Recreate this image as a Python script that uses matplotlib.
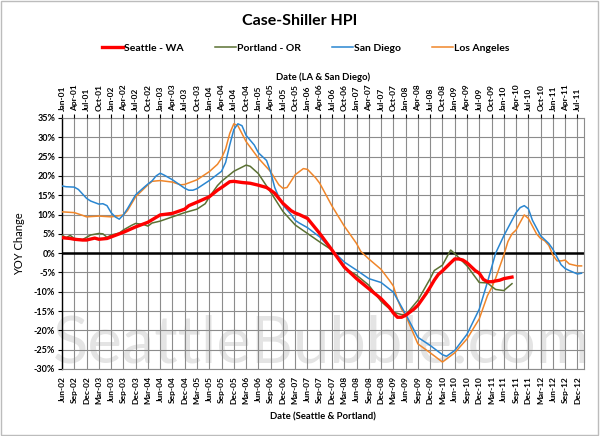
import matplotlib
matplotlib.use('Agg')
import matplotlib.pyplot as plt
from matplotlib.patches import Rectangle
import pandas as pd

plt.rcParams['font.family'] = ['Lato', 'DejaVu Sans']

# month offsets from the left edge of the chart
# top axis: Jan-01 = 0 (LA & San Diego), bottom axis: Jun-02 = 0 (Seattle & Portland)
top_labels = [d.strftime('%b-%y') for d in pd.date_range('2001-01-01', periods=43, freq='3MS')]
bottom_labels = [d.strftime('%b-%y') for d in pd.date_range('2002-06-01', periods=43, freq='3MS')]
label_months = list(range(0, 127, 3))
y_ticks = list(range(-30, 36, 5))

seattle_t = [0, 2, 3, 5, 6, 8, 9, 11, 12, 15, 18, 21, 24, 27, 30, 31, 33, 36, 38, 39, 41, 42,
             44, 46, 48, 50, 51, 52, 54, 56, 57, 58, 60, 63, 66, 69, 72, 75, 78, 80, 81, 82,
             83, 84, 86, 87, 89, 90, 91, 92, 93, 95, 96, 97, 98, 99, 101, 102, 103, 104, 105,
             107, 108, 110]
seattle_v = [4.0, 3.8, 3.6, 3.4, 3.4, 3.9, 3.6, 3.8, 4.2, 5.4, 6.8, 8.0, 9.9, 10.3, 11.4, 12.3,
             13.2, 14.6, 16.3, 17.0, 18.5, 18.6, 18.3, 18.1, 17.6, 17.0, 16.3, 15.5, 12.9, 11.0,
             10.4, 10.0, 9.0, 5.1, 0.8, -3.6, -6.6, -9.2, -11.8, -14.0, -15.5, -16.6, -16.6,
             -16.1, -14.5, -13.5, -10.5, -8.8, -7.0, -5.5, -4.6, -2.5, -1.5, -1.5, -1.8, -2.5,
             -4.5, -5.2, -6.8, -7.4, -7.4, -7.0, -6.6, -6.2]

portland_t = [0, 1, 2, 3, 5, 7, 9, 10, 11, 12, 14, 15, 17, 18, 20, 21, 22, 24, 27, 30, 31, 33,
              35, 36, 38, 39, 42, 45, 46, 48, 51, 54, 57, 60, 63, 66, 69, 72, 75, 78, 81, 83,
              84, 87, 90, 91, 93, 95, 96, 99, 102, 104, 105, 106, 108, 110]
portland_v = [4.7, 4.0, 4.6, 3.8, 3.5, 4.7, 5.1, 5.0, 4.1, 4.7, 5.2, 6.0, 7.2, 7.7, 7.4, 7.0,
              7.8, 8.3, 9.4, 10.5, 10.8, 11.4, 12.8, 14.5, 17.5, 18.6, 21.2, 22.8, 22.5, 20.6,
              15.8, 10.8, 7.3, 5.1, 2.9, 0.8, -3.8, -5.7, -8.3, -12.5, -15.3, -15.9, -16.0,
              -12.2, -6.6, -4.5, -3.1, 0.8, -0.1, -3.3, -7.6, -7.7, -8.6, -9.4, -9.7, -7.9]

sandiego_t = [0, 1, 3, 4, 6, 7, 9, 10, 11, 12, 13, 14, 15, 16, 18, 20, 21, 22, 23, 24, 25, 27,
              30, 31, 32, 33, 36, 39, 40, 41, 42, 43, 44, 45, 47, 48, 50, 51, 52, 53, 54, 56,
              57, 58, 60, 63, 66, 69, 72, 75, 78, 81, 82, 84, 87, 90, 93, 94, 96, 99, 102, 104,
              106, 108, 110, 111, 112, 113, 114, 115, 116, 117, 118, 119, 120, 121, 122, 123,
              124, 126, 127]
sandiego_v = [17.4, 17.2, 17.1, 16.5, 14.2, 13.5, 12.7, 12.8, 12.3, 10.5, 9.4, 8.8, 9.9, 11.5,
              15.1, 17.0, 17.9, 18.7, 20.0, 20.7, 20.2, 19.0, 16.8, 16.3, 16.3, 16.7, 18.8, 21.2,
              23.5, 28.0, 32.0, 33.5, 33.0, 30.5, 28.0, 26.0, 24.0, 21.0, 17.0, 14.5, 12.5, 10.0,
              8.5, 7.8, 6.6, 4.2, 0.8, -2.3, -4.4, -6.6, -7.6, -10.1, -12.0, -15.8, -21.8, -23.9,
              -26.3, -26.7, -25.2, -21.0, -14.5, -7.5, 0.0, 4.5, 8.5, 10.5, 11.8, 12.3, 11.5,
              8.5, 6.5, 4.5, 3.5, 2.5, 1.0, -1.0, -3.0, -4.0, -4.5, -5.4, -5.2]

la_t = [0, 3, 5, 6, 9, 12, 14, 15, 16, 18, 21, 22, 24, 27, 29, 30, 33, 36, 38, 39, 40, 41, 42,
        43, 45, 48, 51, 53, 54, 55, 57, 59, 60, 62, 63, 66, 69, 72, 73, 75, 78, 80, 81, 82, 83,
        84, 87, 90, 93, 96, 99, 102, 104, 105, 106, 107, 108, 109, 110, 111, 112, 113, 114,
        115, 116, 117, 118, 119, 120, 121, 122, 123, 124, 126, 127]
la_v = [10.7, 10.5, 9.8, 9.4, 9.6, 9.4, 9.7, 9.9, 11.0, 14.6, 17.7, 18.6, 18.8, 18.4, 17.7, 17.8,
        19.0, 21.1, 23.0, 24.6, 27.0, 31.0, 33.5, 33.0, 28.9, 24.6, 21.1, 17.7, 16.8, 17.0, 20.3,
        21.9, 21.7, 19.5, 18.1, 12.2, 7.0, 2.5, 0.5, -1.5, -4.2, -7.0, -8.5, -12.0, -14.5, -16.1,
        -23.5, -25.8, -28.2, -25.8, -22.2, -17.0, -11.0, -9.0, -6.5, -3.5, -0.5, 3.0, 5.0, 6.0,
        8.0, 9.9, 9.0, 7.0, 5.0, 3.8, 3.2, 2.0, -0.5, -2.0, -2.0, -1.8, -2.8, -3.3, -3.3]

fig = plt.figure(figsize=(6.0, 4.36), dpi=100)
ax = fig.add_axes([62 / 600, 1 - 369 / 436, 522 / 600, 251 / 436])

grid_color = '#8c8c8c'
for m in label_months:
    ax.axvline(m, color=grid_color, lw=0.8, zorder=1)
for v in y_ticks:
    ax.axhline(v, color=grid_color, lw=0.8, zorder=1)
ax.axhline(0, color='black', lw=1.8, zorder=2)

ax.text(0.498, 0.1, 'SeattleBubble.com', transform=ax.transAxes, ha='center', va='center',
        fontsize=47, color='#e4e4e4', zorder=0.5)

ax.plot(la_t, la_v, color='#F0862A', lw=1.1, zorder=3, label='Los Angeles')
ax.plot(sandiego_t, sandiego_v, color='#2A86D1', lw=1.1, zorder=4, label='San Diego')
ax.plot(portland_t, portland_v, color='#5B7133', lw=1.1, zorder=5, label='Portland - OR')
ax.plot(seattle_t, seattle_v, color='#FF0000', lw=2.4, zorder=6, label='Seattle - WA')

ax.set_xlim(0, 127.6)
ax.set_ylim(-30, 35)
ax.set_yticks(y_ticks)
ax.set_yticklabels(['%d%%' % v for v in y_ticks], fontsize=6.5, fontweight='bold')
ax.tick_params(axis='y', direction='out', length=3, width=0.8, pad=2)
ax.set_xticks(label_months)
ax.set_xticklabels(bottom_labels, rotation=90, fontsize=6, fontweight='bold')
ax.tick_params(axis='x', length=0, pad=5)
ax.set_xlabel('Date (Seattle & Portland)', fontsize=6.8, fontweight='bold', labelpad=6)
ax.set_ylabel('YOY Change', fontsize=8, labelpad=6)

for side in ['top', 'right', 'bottom']:
    ax.spines[side].set_color(grid_color)
    ax.spines[side].set_linewidth(0.8)
ax.spines['left'].set_color('black')
ax.spines['left'].set_linewidth(1.0)

ax_top = ax.twiny()
ax_top.set_xlim(ax.get_xlim())
ax_top.set_xticks(label_months)
ax_top.set_xticklabels(top_labels, rotation=90, fontsize=6, fontweight='bold')
ax_top.tick_params(axis='x', direction='out', length=3, width=0.8, pad=2)
ax_top.set_xlabel('Date (LA & San Diego)', fontsize=6.8, fontweight='bold', labelpad=3)
for side in ['top', 'right', 'bottom', 'left']:
    ax_top.spines[side].set_visible(False)

handles, labels = ax.get_legend_handles_labels()
order = [3, 2, 1, 0]
fig.legend([handles[i] for i in order], [labels[i] for i in order], loc='center',
           bbox_to_anchor=(306 / 600, 1 - 48 / 436), ncol=4, frameon=False,
           handlelength=2.0, handletextpad=0.1, columnspacing=3.0,
           prop={'size': 7.5, 'weight': 'bold'})

fig.text(0.5, 1 - 21 / 436, 'Case-Shiller HPI', ha='center', va='center', fontsize=11.5,
         fontweight='bold')

fig.patches.append(Rectangle((0.002, 0.003), 0.995, 0.994, transform=fig.transFigure,
                             fill=False, edgecolor='#bcbcbc', lw=1.0))

fig.savefig('out.png', dpi=100)
